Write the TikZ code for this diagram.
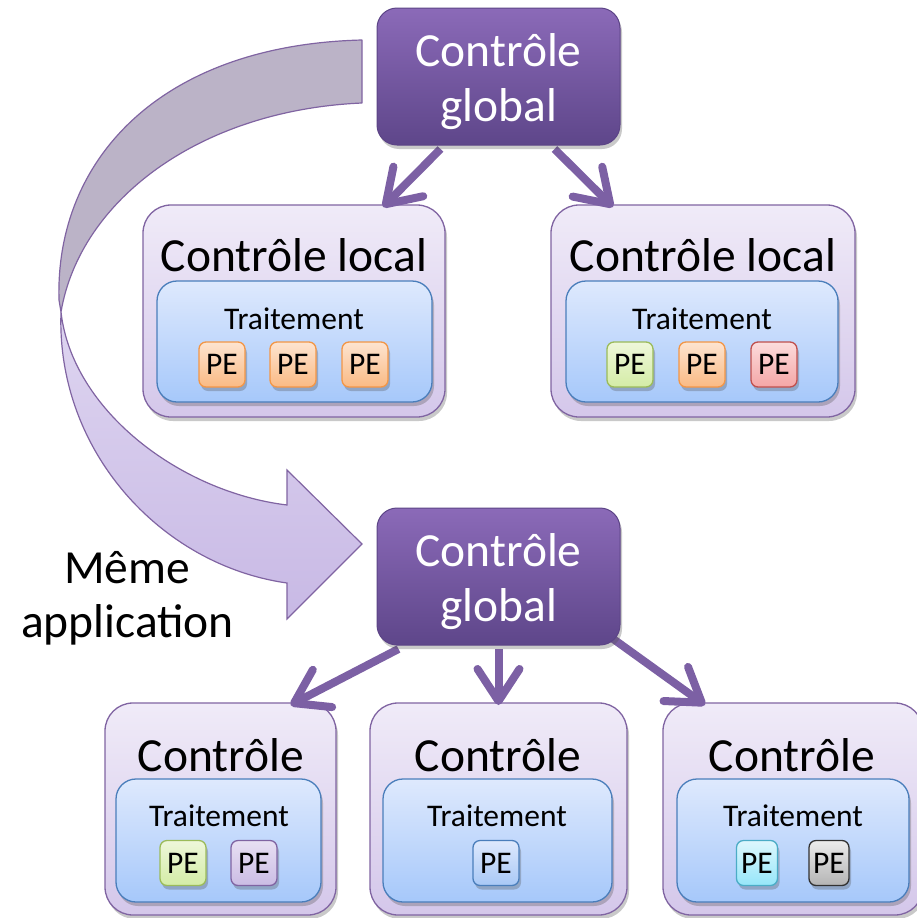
\documentclass[tikz,border=0pt]{standalone}
\usepackage{fontspec}
\setmainfont{Carlito}
\usetikzlibrary{arrows.meta,shadows}

% palette
\definecolor{gTop}{RGB}{139,106,184}
\definecolor{gBot}{RGB}{94,70,138}
\definecolor{gEdge}{RGB}{92,68,134}
\definecolor{lTop}{RGB}{240,235,248}
\definecolor{lBot}{RGB}{212,199,234}
\definecolor{lEdge}{RGB}{128,100,162}
\definecolor{bTop}{RGB}{222,233,253}
\definecolor{bBot}{RGB}{166,200,250}
\definecolor{bEdge}{RGB}{74,126,187}
\definecolor{arrowCol}{RGB}{124,96,164}
\definecolor{ribGray}{RGB}{187,179,199}
\definecolor{ribTop}{RGB}{222,213,240}
\definecolor{ribBot}{RGB}{200,185,229}
% processing element colours
\definecolor{orTop}{RGB}{253,228,208}\definecolor{orBot}{RGB}{250,186,132}\definecolor{orEdge}{RGB}{243,150,70}
\definecolor{grTop}{RGB}{238,247,218}\definecolor{grBot}{RGB}{212,236,166}\definecolor{grEdge}{RGB}{155,187,89}
\definecolor{rdTop}{RGB}{252,220,220}\definecolor{rdBot}{RGB}{244,166,166}\definecolor{rdEdge}{RGB}{192,80,77}
\definecolor{puTop}{RGB}{232,224,243}\definecolor{puBot}{RGB}{203,188,228}\definecolor{puEdge}{RGB}{128,100,162}
\definecolor{cyTop}{RGB}{222,247,253}\definecolor{cyBot}{RGB}{150,230,249}\definecolor{cyEdge}{RGB}{75,172,198}
\definecolor{gyTop}{RGB}{236,236,236}\definecolor{gyBot}{RGB}{180,180,180}\definecolor{gyEdge}{RGB}{50,50,50}
\definecolor{blTop}{RGB}{222,233,253}\definecolor{blBot}{RGB}{168,200,246}\definecolor{blEdge}{RGB}{74,126,187}

\pgfdeclarelayer{backlayer}
\pgfdeclarelayer{arrowlayer}
\pgfsetlayers{backlayer,arrowlayer,main}

\tikzset{
  x=1pt, y=-1pt,
  softshadow/.style={drop shadow={opacity=0.3, shadow xshift=2pt, shadow yshift=-4pt, fill=black!70}},
  gbox/.style={rounded corners=20pt, draw=gEdge, line width=1pt, top color=gTop, bottom color=gBot,
    minimum width=243pt, minimum height=137pt, inner sep=0pt, outer sep=0pt, softshadow},
  lbox/.style={rounded corners=28pt, draw=lEdge, line width=1.3pt, top color=lTop, bottom color=lBot,
    minimum height=212pt, inner sep=0pt, outer sep=0pt, softshadow},
  tbox/.style={rounded corners=20pt, draw=bEdge, line width=1.3pt, top color=bTop, bottom color=bBot,
    minimum height=122pt, inner sep=0pt, outer sep=0pt, softshadow},
  pe/.style args={#1}{rounded corners=7pt, draw=#1Edge, line width=1.3pt, top color=#1Top, bottom color=#1Bot,
    minimum width=46pt, minimum height=45pt, inner sep=0pt, outer sep=0pt,
    font=\fontsize{31.5}{36}\selectfont, softshadow},
  bigtxt/.style={font=\fontsize{47.5}{55}\selectfont, anchor=base, inner sep=0pt},
  gtxt/.style={bigtxt, text=white},
  midtxt/.style={font=\fontsize{31.5}{36}\selectfont, anchor=base, inner sep=0pt},
  conn/.style={draw=arrowCol, line width=8pt,
    -{Straight Barb[round, length=32pt, width=42pt]}},
}

\begin{document}
\begin{tikzpicture}
\useasboundingbox (0,0) rectangle (917,918);

% ---- twisted ribbon arrow: back face (grey) and front face (lilac) ----
\begin{pgfonlayer}{backlayer}
\path[fill=ribGray, draw=lEdge, line width=1.2pt, line join=round]
  (362,40) .. controls (160,45) and (55,160) .. (59,300)
  -- (61,312)
  .. controls (80,200) and (200,110) .. (362,103) -- cycle;
\path[top color=ribTop, bottom color=ribBot, draw=lEdge, line width=1.2pt, line join=miter]
  (61,312) .. controls (56,450) and (160,565) .. (287,583)
  -- (287,619) -- (362,544) -- (287,470) -- (287,505)
  .. controls (180,492) and (72,410) .. (61,312) -- cycle;
\end{pgfonlayer}

% ---- upper hierarchy ----
\node[gbox] (gtop) at (498.5,76.5) {};
\node[gtxt] (gtopA) at (498.5,66) {Contrôle};
\node[gtxt] (gtopB) at (498.5,121) {global};

\begin{pgfonlayer}{backlayer}
\node[lbox, minimum width=302pt] (locA) at (294,311) {};
\node[tbox, minimum width=275pt, minimum height=121pt] (trA) at (294.5,341.5) {};
\node[lbox, minimum width=304pt] (locB) at (703,311) {};
\node[tbox, minimum width=272pt, minimum height=121pt] (trB) at (702,341.5) {};
\end{pgfonlayer}
\node[bigtxt] (locAt) at (294,271) {Contrôle local};
\node[midtxt] (trAt) at (294,329) {Traitement};
\node[pe=or] (peA1) at (222,364.5) {PE};
\node[pe=or] (peA2) at (293,364.5) {PE};
\node[pe=or] (peA3) at (365,364.5) {PE};
\node[bigtxt] (locBt) at (703,271) {Contrôle local};
\node[midtxt] (trBt) at (702,329) {Traitement};
\node[pe=gr] (peB1) at (630,364.5) {PE};
\node[pe=or] (peB2) at (702,364.5) {PE};
\node[pe=rd] (peB3) at (774,364.5) {PE};

% ---- lower hierarchy ----
\node[gbox] (gbot) at (498.5,576.5) {};
\node[gtxt] (gbotA) at (498.5,566) {Contrôle};
\node[gtxt] (gbotB) at (498.5,621) {global};

\begin{pgfonlayer}{backlayer}
\node[lbox, minimum width=231pt] (cA) at (220.5,809) {};
\node[tbox, minimum width=205pt, minimum height=123pt] (tA) at (218.5,840.5) {};
\node[lbox, minimum width=257pt] (cB) at (498.5,809) {};
\node[tbox, minimum width=229pt, minimum height=123pt] (tB) at (497.5,840.5) {};
\node[lbox, minimum width=260pt] (cC) at (793,809) {};
\node[tbox, minimum width=232pt, minimum height=123pt] (tC) at (793,840.5) {};
\end{pgfonlayer}
\node[bigtxt] (cAt) at (221,771) {Contrôle};
\node[midtxt] (tAt) at (219,826) {Traitement};
\node[pe=gr] (pA1) at (183,863) {PE};
\node[pe=pu] (pA2) at (254,863) {PE};
\node[bigtxt] (cBt) at (498,771) {Contrôle};
\node[midtxt] (tBt) at (497,826) {Traitement};
\node[pe=bl] (pB1) at (496,863) {PE};
\node[bigtxt] (cCt) at (792,771) {Contrôle};
\node[midtxt] (tCt) at (793,826) {Traitement};
\node[pe=cy, minimum width=41pt] (pC1) at (757,863) {PE};
\node[pe=gy, minimum width=40pt] (pC2) at (829,863) {PE};

% ---- side label ----
\node[bigtxt] (labA) at (127,583) {Même};
\node[bigtxt] (labB) at (127.5,637) {application};

% ---- connectors between control levels ----
\begin{pgfonlayer}{arrowlayer}
\draw[conn] ([xshift=-58pt,yshift=-4pt]gtop.south) -- ([xshift=89pt,yshift=-2pt]locA.north);
\draw[conn] ([xshift=56pt,yshift=-4pt]gtop.south) -- ([xshift=-90pt,yshift=-2pt]locB.north);
\draw[conn] ([xshift=-100pt,yshift=-4pt]gbot.south) -- ([xshift=70pt,yshift=-2pt]cA.north);
\draw[conn] ([yshift=-4pt]gbot.south) -- ([yshift=-2pt]cB.north);
\draw[conn] ([xshift=112pt,yshift=8pt]gbot.south) -- ([xshift=-88pt,yshift=-2pt]cC.north);
\end{pgfonlayer}
\end{tikzpicture}
\end{document}
